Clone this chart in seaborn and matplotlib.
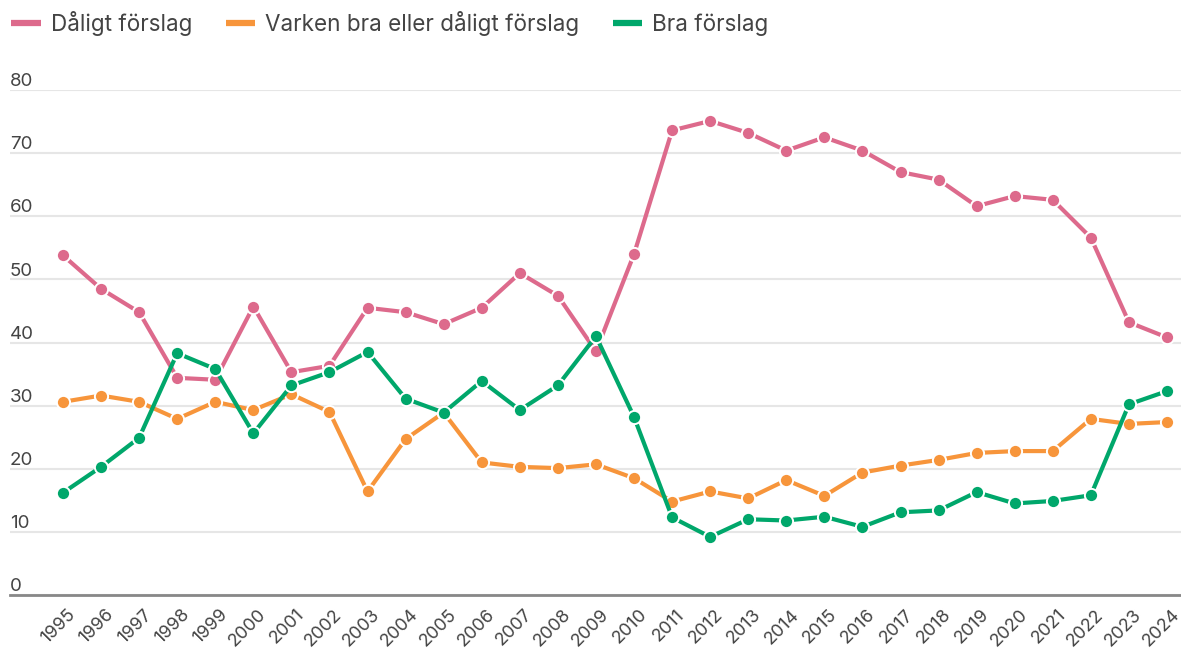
import pandas as pd
import matplotlib.pyplot as plt
import matplotlib.transforms as mtransforms
import seaborn as sns
from matplotlib.lines import Line2D

# Data (percent)
years = list(range(1995, 2025))
daligt = [53.8, 48.5, 44.8, 34.4, 34.1, 45.7, 35.3, 36.3, 45.5, 44.8,
          42.9, 45.5, 51.0, 47.4, 38.6, 54.0, 73.6, 75.1, 73.2, 70.4,
          72.5, 70.4, 67.0, 65.8, 61.6, 63.2, 62.6, 56.6, 43.2, 40.8]
varken = [30.6, 31.6, 30.6, 27.9, 30.6, 29.3, 31.8, 29.0, 16.4, 24.7,
          28.9, 21.0, 20.3, 20.1, 20.7, 18.5, 14.8, 16.4, 15.3, 18.2,
          15.7, 19.4, 20.5, 21.4, 22.5, 22.8, 22.8, 27.9, 27.1, 27.4]
bra = [16.2, 20.3, 24.9, 38.3, 35.8, 25.6, 33.2, 35.3, 38.5, 31.1,
       28.9, 33.9, 29.3, 33.2, 41.0, 28.2, 12.3, 9.2, 12.0, 11.8,
       12.4, 10.8, 13.1, 13.4, 16.3, 14.5, 14.9, 15.8, 30.2, 32.3]
series_names = ['Dåligt förslag', 'Varken bra eller dåligt förslag', 'Bra förslag']
colors = ['#dd6a8c', '#f7953b', '#00a76b']
y_ticks = [0, 10, 20, 30, 40, 50, 60, 70, 80]

df = pd.DataFrame({'year': years * 3,
                   'value': daligt + varken + bra,
                   'serie': [series_names[0]] * 30 + [series_names[1]] * 30 + [series_names[2]] * 30})

sns.set_style('white')
plt.rcParams['font.family'] = ['Inter', 'DejaVu Sans']

fig = plt.figure(figsize=(11.81, 6.5), dpi=100)
ax = fig.add_axes([10 / 1181, 55 / 650, 1171 / 1181, 505 / 650])

sns.lineplot(data=df, x='year', y='value', hue='serie', hue_order=series_names,
             palette=colors, marker='o', markersize=9.5, markeredgecolor='white',
             markeredgewidth=1.4, linewidth=3, legend=False, ax=ax, zorder=3)

ax.set_ylim(0, 80)
ax.set_xlim(1995 - 53 / 38.07, 2024 + 14 / 38.07)
ax.set_yticks(y_ticks)
ax.set_yticklabels([])
ax.tick_params(axis='y', length=0)
ax.grid(axis='y', color='#e6e6e6', linewidth=1.5)
ax.grid(axis='x', visible=False)
for s in ['top', 'right', 'left']:
    ax.spines[s].set_visible(False)
ax.spines['bottom'].set_color('#888888')
ax.spines['bottom'].set_linewidth(2)
ax.spines['bottom'].set_zorder(4)

# y labels sit just above their gridline, at the left edge
for t in y_ticks:
    ax.text(0, t + 0.6, str(t), transform=ax.get_yaxis_transform(),
            ha='left', va='baseline', fontsize=13.5, color='#444444')

ax.set_xticks(years)
ax.set_xticklabels([str(y) for y in years], rotation=45, ha='right', va='top',
                   rotation_mode='anchor', fontsize=13, color='#444444')
ax.tick_params(axis='x', length=0, pad=8)
shift = mtransforms.ScaledTranslation(4 / 100, 0, fig.dpi_scale_trans)
for lab in ax.get_xticklabels():
    lab.set_transform(lab.get_transform() + shift)
ax.set_xlabel('')
ax.set_ylabel('')

handles = [Line2D([0], [0], color=c, linewidth=4.5, solid_capstyle='butt') for c in colors]
fig.legend(handles, series_names, loc='upper left', bbox_to_anchor=(0.0, 1.0),
           ncol=3, frameon=False, fontsize=16.2, handlelength=1.3,
           handletextpad=0.45, columnspacing=1.5, borderaxespad=0.1,
           borderpad=0.4, labelcolor='#444444')

fig.savefig('out.png', dpi=100)
